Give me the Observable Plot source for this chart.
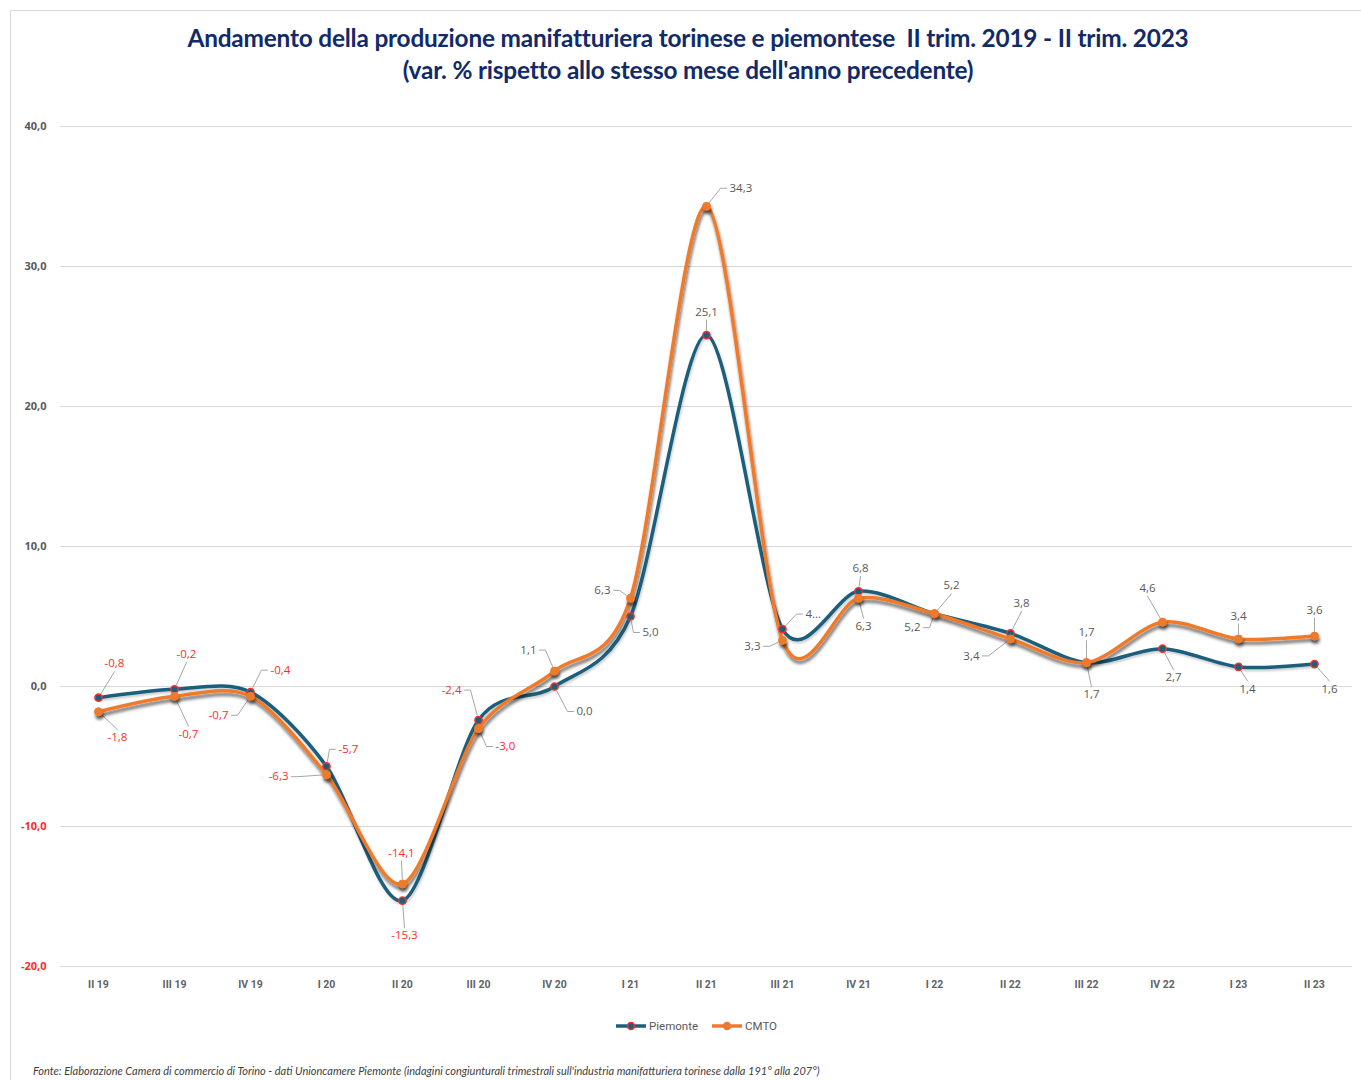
<!DOCTYPE html>
<html>
<head>
<meta charset="utf-8">
<script src="https://cdn.jsdelivr.net/npm/d3@7"></script>
<script src="https://cdn.jsdelivr.net/npm/@observablehq/plot@0.6"></script>
<style>
  body { margin: 0; background: #fff; width: 1361px; height: 1080px; overflow: hidden; position: relative; font-family: Lato, "Open Sans", sans-serif; }
  #frame { position: absolute; left: 10px; top: 10px; width: 1400px; height: 1100px; border-left: 1px solid #d9d9d9; border-top: 1px solid #d9d9d9; }
  #title { position: absolute; left: 10px; width: 1356px; top: 22px; text-align: center; color: #112a6a; font-weight: 700; font-size: 24.4px; line-height: 32px; letter-spacing: -0.2px; }
  #chart { position: absolute; left: 0; top: 100px; }
  #legend { position: absolute; left: 614px; top: 1019px; display: flex; align-items: center; font-family: Roboto, sans-serif; font-size: 11.5px; color: #595959; }
  #legend .item { display: flex; align-items: center; margin-right: 12px; }
  #legend .item span { margin-left: 3px; }
  #source { position: absolute; left: 33px; top: 1064px; line-height: 13px; font-family: Lato, sans-serif; font-style: italic; font-size: 11px; color: #404040; white-space: nowrap; }
</style>
</head>
<body>
<div id="frame"></div>
<div id="title">Andamento della produzione manifatturiera torinese e piemontese&nbsp; II trim. 2019 - II trim. 2023<br>(var. % rispetto allo stesso mese dell'anno precedente)</div>
<div id="chart"></div>
<div id="legend"></div>
<div id="source">Fonte: Elaborazione Camera di commercio di Torino - dati Unioncamere Piemonte (indagini congiunturali trimestrali sull'industria manifatturiera torinese dalla 191° alla 207°)</div>
<script>
// Quarters on the x axis
const quarters = ["II 19", "III 19", "IV 19", "I 20", "II 20", "III 20", "IV 20", "I 21", "II 21",
  "III 21", "IV 21", "I 22", "II 22", "III 22", "IV 22", "I 23", "II 23"];

// Year-on-year % change of manufacturing output
const piemonte = [-0.8, -0.2, -0.4, -5.7, -15.3, -2.4, 0.0, 5.0, 25.1, 4.1, 6.8, 5.2, 3.8, 1.7, 2.7, 1.4, 1.6];
const cmto = [-1.8, -0.7, -0.7, -6.3, -14.1, -3.0, 1.1, 6.3, 34.3, 3.3, 6.3, 5.2, 3.4, 1.7, 4.6, 3.4, 3.6];

const yTicks = [-20, -10, 0, 10, 20, 30, 40];

// Label placement relative to each point: [dx px, dy px, text anchor]
const piemonteLabelPos = [
  [16, -34, "middle"], [12, -35, "middle"], [20, -22, "start"], [12, -17, "start"], [2, 35, "middle"],
  [-17, -30, "end"], [22, 25, "start"], [12, 16, "start"], [0, -23, "middle"], [23, -15, "start"],
  [2, -23, "middle"], [-14, 14, "end"], [11, -30, "middle"], [5, 32, "middle"], [11, 29, "middle"],
  [9, 22, "middle"], [15, 25, "middle"]
];
const cmtoLabelPos = [
  [19, 26, "middle"], [14, 38, "middle"], [-22, 19, "end"], [-38, 2, "end"], [-1, -31, "middle"],
  [17, 18, "start"], [-18, -21, "end"], [-20, -8, "end"], [23, -18, "start"], [-22, 6, "end"],
  [5, 28, "middle"], [17, -28, "middle"], [-31, 17, "end"], [0, -30, "middle"], [-15, -34, "middle"],
  [0, -23, "middle"], [0, -26, "middle"]
];
// Labels shortened on the chart
const piemonteLabelText = {9: "4\u2026"};

const colors = { piemonte: "#1b5e7d", cmto: "#ef7a2c", dotRing: "#ff2a2a", red: "#ff2b2b", gray: "#595959", grid: "#d9d9d9", leader: "#a6a6a6" };

const W = 1361, H = 906, mL = 60, mR = 9, mT = 26, mB = 40;
const pxX = (W - mL - mR) / quarters.length;   // px per category
const pxY = (H - mT - mB) / (yTicks[yTicks.length - 1] - yTicks[0]); // px per % point

const fmt = v => d3.format(".1f")(v).replace(".", ",").replace("\u2212", "-");

function rows(values, series) {
  return values.map((v, i) => ({ i, v, series }));
}
function labelRows(values, pos, overrides, series) {
  return values.map((v, i) => {
    const [dx, dy, anchor] = pos[i];
    return {
      id: series + i, v, anchor,
      x: i + dx / pxX, y: v - dy / pxY,
      text: overrides[i] ?? fmt(v),
      color: v < 0 ? colors.red : colors.gray,
      dx, dy, i
    };
  });
}
function leaderRows(labels) {
  const out = [];
  for (const L of labels) {
    const { dx, dy, anchor, i, v, id } = L;
    let pts;
    if (anchor === "middle") {
      if (Math.abs(dy) < 22) continue;
      pts = [[dx, dy - Math.sign(dy) * 8]];
    } else if (anchor === "start") {
      pts = [[dx - 9, dy], [dx - 3, dy]];
    } else {
      pts = [[dx + 9, dy], [dx + 3, dy]];
    }
    const [kx, ky] = pts[0];
    const len = Math.hypot(kx, ky);
    if (len < 6) { pts = pts.slice(1); }
    const s = len > 0 ? 5 / len : 0;
    const start = [kx * s, ky * s];
    [start, ...pts].forEach(([px, py], k) => out.push({ id, k, x: i + px / pxX, y: v - py / pxY }));
  }
  return out;
}

const pData = rows(piemonte, "Piemonte");
const cData = rows(cmto, "CMTO");
const pLabels = labelRows(piemonte, piemonteLabelPos, piemonteLabelText, "p");
const cLabels = labelRows(cmto, cmtoLabelPos, {}, "c");
const allLabels = [...pLabels, ...cLabels];
const leaders = leaderRows(allLabels);

const textStyle = { fontFamily: "'Open Sans', sans-serif", fontSize: 11.5 };
const smooth = { curve: "cardinal", tension: 0.12 };

const chart = Plot.plot({
  width: W, height: H,
  marginLeft: mL, marginRight: mR, marginTop: mT, marginBottom: mB,
  style: { background: "transparent", overflow: "visible" },
  x: { type: "linear", domain: [-0.5, quarters.length - 0.5] },
  y: { domain: [yTicks[0], yTicks[yTicks.length - 1]] },
  color: { type: "identity" },
  marks: [
    Plot.gridY(yTicks, { stroke: colors.grid, strokeOpacity: 1, strokeWidth: 1 }),
    Plot.axisX(d3.range(quarters.length), {
      tickFormat: i => quarters[i], tickSize: 0, tickPadding: 14, label: null,
      fontFamily: "Roboto, sans-serif", fontSize: 10.5, fontWeight: 700, fill: "#626262"
    }),
    Plot.axisY(yTicks.filter(t => t >= 0), {
      tickFormat: fmt, tickSize: 0, tickPadding: 14, label: null,
      fontFamily: "'Open Sans', sans-serif", fontSize: 11, fontWeight: 700, fill: "#595959"
    }),
    Plot.axisY(yTicks.filter(t => t < 0), {
      tickFormat: fmt, tickSize: 0, tickPadding: 14, label: null,
      fontFamily: "'Open Sans', sans-serif", fontSize: 11, fontWeight: 700, fill: colors.red
    }),
    // leader lines for the data labels
    Plot.line(leaders, { x: "x", y: "y", z: "id", stroke: colors.leader, strokeWidth: 1, curve: "linear" }),
    Plot.line(pData, { x: "i", y: "v", stroke: colors.piemonte, strokeWidth: 3.5, ...smooth }),
    Plot.line(cData, { x: "i", y: "v", stroke: colors.cmto, strokeWidth: 3.5, ...smooth }),
    Plot.dot(pData, { x: "i", y: "v", r: 3.6, fill: colors.piemonte, stroke: colors.dotRing, strokeWidth: 1.5 }),
    Plot.dot(cData, { x: "i", y: "v", r: 4, fill: colors.cmto, stroke: colors.cmto, strokeWidth: 1 }),
    ...["start", "middle", "end"].map(a =>
      Plot.text(allLabels.filter(d => d.anchor === a), {
        x: "x", y: "y", text: "text", fill: "color", textAnchor: a, lineAnchor: "middle", ...textStyle
      })
    )
  ]
});

// soft drop shadow under the lines
const svg = d3.select(chart);
const defs = svg.insert("defs", ":first-child");
const f = defs.append("filter").attr("id", "lineShadow").attr("x", "-5%").attr("y", "-5%").attr("width", "110%").attr("height", "120%");
f.append("feDropShadow").attr("dx", 1).attr("dy", 3.5).attr("stdDeviation", 1.6).attr("flood-color", "#000").attr("flood-opacity", 0.55);
const f2 = defs.append("filter").attr("id", "lineShadowLight").attr("x", "-5%").attr("y", "-5%").attr("width", "110%").attr("height", "120%");
f2.append("feDropShadow").attr("dx", 1).attr("dy", 2).attr("stdDeviation", 1.2).attr("flood-color", "#000").attr("flood-opacity", 0.2);
const lineGroups = svg.selectAll('g[aria-label="line"]').nodes();
d3.select(lineGroups[1]).attr("filter", "url(#lineShadowLight)");
d3.select(lineGroups[2]).attr("filter", "url(#lineShadow)");
const dotGroups = svg.selectAll('g[aria-label="dot"]').nodes();
d3.select(dotGroups[1]).attr("filter", "url(#lineShadow)");

document.getElementById("chart").appendChild(chart);

// legend: line with marker for each series
const legend = d3.select("#legend");
[["Piemonte", colors.piemonte, colors.dotRing], ["CMTO", colors.cmto, colors.cmto]].forEach(([name, c, ring]) => {
  const item = legend.append("div").attr("class", "item");
  const s = item.append("svg").attr("width", 32).attr("height", 12);
  s.append("line").attr("x1", 2).attr("x2", 32).attr("y1", 6).attr("y2", 6).attr("stroke", c).attr("stroke-width", 3.5);
  s.append("circle").attr("cx", 17).attr("cy", 6).attr("r", 3.5).attr("fill", c).attr("stroke", ring).attr("stroke-width", 1.5);
  item.append("span").text(name);
});
</script>
</body>
</html>
